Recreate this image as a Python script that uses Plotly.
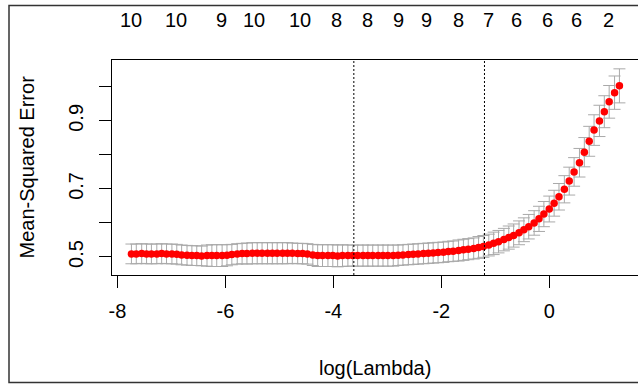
import plotly.graph_objects as go

# log(lambda) grid of the cross-validated fit
log_lambda = [
    -7.74, -7.65, -7.55, -7.46, -7.37, -7.27, -7.18, -7.09, -6.99, -6.90,
    -6.81, -6.71, -6.62, -6.53, -6.44, -6.34, -6.25, -6.16, -6.06, -5.97,
    -5.88, -5.78, -5.69, -5.60, -5.50, -5.41, -5.32, -5.22, -5.13, -5.04,
    -4.94, -4.85, -4.76, -4.66, -4.57, -4.48, -4.38, -4.29, -4.20, -4.10,
    -4.01, -3.92, -3.83, -3.73, -3.64, -3.55, -3.45, -3.36, -3.27, -3.17,
    -3.08, -2.99, -2.89, -2.80, -2.71, -2.61, -2.52, -2.43, -2.33, -2.24,
    -2.15, -2.06, -1.96, -1.87, -1.78, -1.68, -1.59, -1.50, -1.40, -1.31,
    -1.22, -1.12, -1.03, -0.94, -0.84, -0.75, -0.66, -0.56, -0.47, -0.38,
    -0.28, -0.19, -0.10, 0.00, 0.09, 0.18, 0.28, 0.37, 0.46, 0.56,
    0.65, 0.74, 0.83, 0.93, 1.02, 1.11, 1.21, 1.30,
]

# mean cross-validated error
mse = [
    0.509, 0.509, 0.510, 0.509, 0.509, 0.509, 0.510, 0.509, 0.509, 0.508,
    0.506, 0.505, 0.504, 0.504, 0.503, 0.504, 0.504, 0.504, 0.504, 0.505,
    0.507, 0.509, 0.510, 0.510, 0.511, 0.511, 0.511, 0.511, 0.511, 0.511,
    0.511, 0.511, 0.511, 0.510, 0.510, 0.509, 0.506, 0.504, 0.504, 0.504,
    0.504, 0.503, 0.504, 0.504, 0.504, 0.504, 0.504, 0.504, 0.504, 0.504,
    0.504, 0.504, 0.504, 0.505, 0.506, 0.507, 0.508, 0.509, 0.510, 0.511,
    0.512, 0.513, 0.514, 0.516, 0.517, 0.519, 0.521, 0.523, 0.525, 0.528,
    0.531, 0.535, 0.540, 0.545, 0.551, 0.557, 0.563, 0.571, 0.580, 0.589,
    0.600, 0.612, 0.626, 0.641, 0.658, 0.677, 0.699, 0.723, 0.750, 0.777,
    0.808, 0.840, 0.873, 0.900, 0.927, 0.956, 0.983, 1.003,
]

# standard error (half-length of the error bars)
se = [
    0.029, 0.029, 0.029, 0.029, 0.029, 0.029, 0.029, 0.029, 0.029, 0.029,
    0.029, 0.029, 0.029, 0.029, 0.029, 0.031, 0.032, 0.032, 0.032, 0.031,
    0.030, 0.030, 0.030, 0.031, 0.031, 0.031, 0.031, 0.031, 0.031, 0.031,
    0.031, 0.031, 0.030, 0.030, 0.030, 0.030, 0.031, 0.032, 0.032, 0.032,
    0.032, 0.032, 0.032, 0.031, 0.031, 0.031, 0.031, 0.031, 0.031, 0.031,
    0.031, 0.031, 0.031, 0.030, 0.030, 0.030, 0.030, 0.030, 0.030, 0.030,
    0.030, 0.030, 0.030, 0.030, 0.030, 0.031, 0.031, 0.031, 0.031, 0.032,
    0.032, 0.032, 0.033, 0.033, 0.033, 0.034, 0.034, 0.035, 0.035, 0.036,
    0.036, 0.037, 0.037, 0.038, 0.038, 0.039, 0.040, 0.041, 0.042, 0.042,
    0.043, 0.044, 0.045, 0.046, 0.047, 0.048, 0.049, 0.050,
]

# number of non-zero coefficients shown along the top
nz_pos = [-7.74, -6.92, -6.08, -5.47, -4.62, -3.95, -3.37, -2.80, -2.27,
          -1.68, -1.13, -0.60, -0.04, 0.51, 1.09]
nz_labels = ["10", "10", "9", "10", "10", "8", "8", "9", "9", "8", "7",
             "6", "6", "6", "2"]

lambda_min = -3.62
lambda_1se = -1.20

x_ticks = [-8, -6, -4, -2, 0]
x_tick_text = ["-8", "-6", "-4", "-2", "0"]
y_ticks = [0.5, 0.6, 0.7, 0.8, 0.9, 1.0]
y_tick_text = ["0.5", "", "0.7", "", "0.9", ""]

FONT = "Liberation Sans, Arial, sans-serif"

fig = go.Figure()
fig.add_trace(go.Scatter(
    x=log_lambda, y=mse, mode="markers",
    marker=dict(color="#ff0000", size=7.5, line=dict(width=0)),
    error_y=dict(type="data", array=se, color="#a9a9a9", thickness=1, width=6),
    showlegend=False, hoverinfo="skip",
))

for xv in (lambda_min, lambda_1se):
    fig.add_shape(type="line", xref="x", yref="paper", x0=xv, x1=xv, y0=0, y1=1,
                  line=dict(color="black", width=1, dash="2px,2px"))

# outer frame
fig.add_shape(type="rect", xref="paper", yref="paper",
              x0=(9 - 112) / 526, x1=(660 - 112) / 526,
              y0=(275 - 382.5) / 215, y1=(275 - 5.5) / 215,
              line=dict(color="#333333", width=1.5), fillcolor="rgba(0,0,0,0)")

for xp, lab in zip(nz_pos, nz_labels):
    fig.add_annotation(x=xp, xref="x", y=(275 - 20) / 215, yref="paper",
                       text=lab, showarrow=False, xanchor="center", yanchor="middle",
                       font=dict(size=20, color="black", family=FONT))

fig.add_annotation(x=0.5, xref="paper", y=(275 - 368) / 215, yref="paper",
                   text="log(Lambda)", showarrow=False, xanchor="center",
                   yanchor="middle", font=dict(size=20, color="black", family=FONT))
fig.add_annotation(x=(26 - 112) / 526, xref="paper", y=0.5, yref="paper",
                   text="Mean-Squared Error", showarrow=False, textangle=-90,
                   xanchor="center", yanchor="middle",
                   font=dict(size=20, color="black", family=FONT))

fig.update_layout(
    width=638, height=385,
    margin=dict(l=112, r=0, t=60, b=110, pad=0),
    paper_bgcolor="white", plot_bgcolor="white",
    font=dict(family=FONT, size=20, color="black"),
    xaxis=dict(range=[-8.10, 1.644], tickvals=x_ticks, ticktext=x_tick_text,
               ticks="outside", ticklen=12, tickcolor="black", tickwidth=1,
               showline=True, linecolor="black", linewidth=1, mirror=True,
               showgrid=False, zeroline=False, fixedrange=True,
               ticklabelstandoff=6),
    yaxis=dict(range=[0.447, 1.079], tickvals=y_ticks, ticktext=y_tick_text,
               tickangle=-90, ticks="outside", ticklen=12, tickcolor="black",
               tickwidth=1, showline=True, linecolor="black", linewidth=1,
               mirror=False, showgrid=False, zeroline=False, fixedrange=True,
               ticklabelstandoff=8),
)

fig.write_html("out.html", config={"displayModeBar": False},
               post_script="document.body.style.margin='0';"
                           "document.body.style.overflow='hidden';")
